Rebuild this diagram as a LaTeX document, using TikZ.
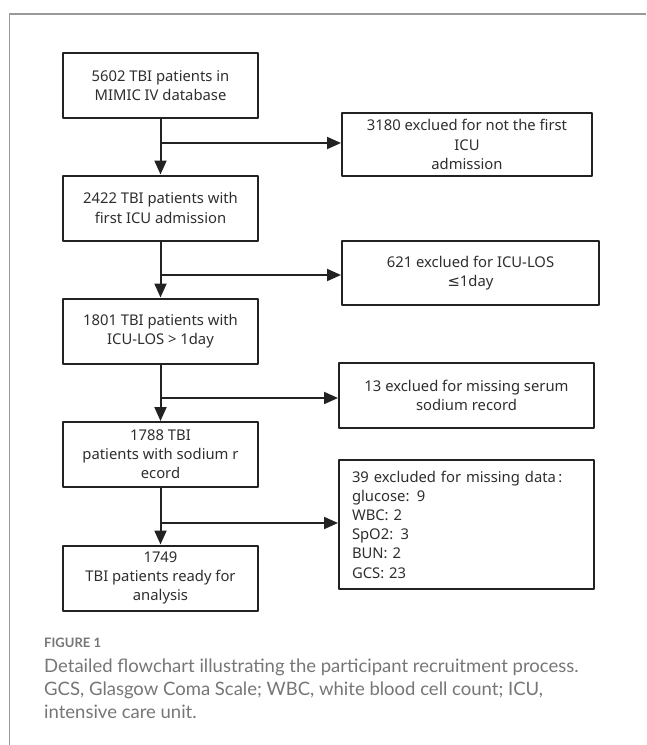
\documentclass[tikz,border=0pt]{standalone}
\usepackage{fontspec}
\setmainfont{Noto Sans}
\newfontfamily\capfont{Lato}
\newfontfamily\symfont{DejaVu Sans}
\usetikzlibrary{arrows.meta,positioning}

\definecolor{boxline}{HTML}{222222}
\definecolor{captext}{HTML}{767676}

\begin{document}
\begin{tikzpicture}[x=1pt, y=-1pt, >={Triangle[length=14pt,width=12pt]}, line join=round,
    mainbox/.style={draw=boxline, line width=2pt, minimum width=195pt, minimum height=65pt, inner sep=2pt,
      align=center, text=black!82, font=\fontsize{14.8}{19.2}\selectfont},
    sidebox/.style={mainbox, minimum width=254pt},
    flow/.style={draw=boxline, line width=2pt, ->}]
  \useasboundingbox (0,0) rectangle (646,745);
  % frame
  \draw[gray!80, line width=1.2pt] (9.5,745) -- (9.5,14) -- (646,14);
  % main column
  \node[mainbox] (all) at (160.5, 85.5) {5602 TBI patients in\\MIMIC IV database};
  \node[mainbox] (first) at (160.5, 208) {2422 TBI patients with\\first ICU admission};
  \node[mainbox] (los) at (160.5, 331) {1801 TBI patients with\\ICU-LOS > 1day};
  \node[mainbox] (sodium) at (160.5, 454.5) {1788 TBI\\patients with sodium r\\ecord};
  \node[mainbox] (final) at (160.5, 578) {1749\\TBI patients ready for\\analysis};
  % exclusions
  \node[sidebox, minimum width=250pt, minimum height=63pt] (exfirst) at (467, 144.5) {3180 exclued for not the first\\ICU\\admission};
  \node[sidebox, minimum width=257pt, minimum height=64pt] (exlos) at (470.5, 273) {621 exclued for ICU-LOS\\{\symfont ≤}1day};
  \node[sidebox, minimum width=255pt] (exsodium) at (466.5, 395.5) {13 exclued for missing serum\\sodium record};
  \node[sidebox, minimum width=255pt, minimum height=129pt, align=left, text width=229pt] (exdata) at (466.5, 524.5)
    {39 excluded for missing data\,:\\glucose: 9\\WBC: 2\\SpO2: 3\\BUN: 2\\GCS: 23};
  % branch points
  \coordinate (b1) at (160.5, 143);
  \coordinate (b2) at (160.5, 275);
  \coordinate (b3) at (160.5, 398);
  \coordinate (b4) at (160.5, 523);
  \draw[flow] (all) -- (first);
  \draw[flow] (first) -- (los);
  \draw[flow] (los) -- (sodium);
  \draw[flow] (sodium) -- (final);
  \draw[flow] (b1) -- (b1 -| exfirst.west);
  \draw[flow] (b2) -- (b2 -| exlos.west);
  \draw[flow] (b3) -- (b3 -| exsodium.west);
  \draw[flow] (b4) -- (b4 -| exdata.west);
  % caption
  \node[anchor=west, text=captext, inner sep=0pt] (figlabel) at (44, 643)
    {\fontsize{13}{15}\selectfont\capfont\bfseries FIGURE 1};
  \node[anchor=north west, text=captext, align=left, inner sep=0pt,
    font=\fontsize{18.5}{23}\selectfont\capfont] (caption) at (44, 659)
    {Detailed flowchart illustrating the participant recruitment process.\\
     GCS, Glasgow Coma Scale; WBC, white blood cell count; ICU,\\
     intensive care unit.};
\end{tikzpicture}
\end{document}
